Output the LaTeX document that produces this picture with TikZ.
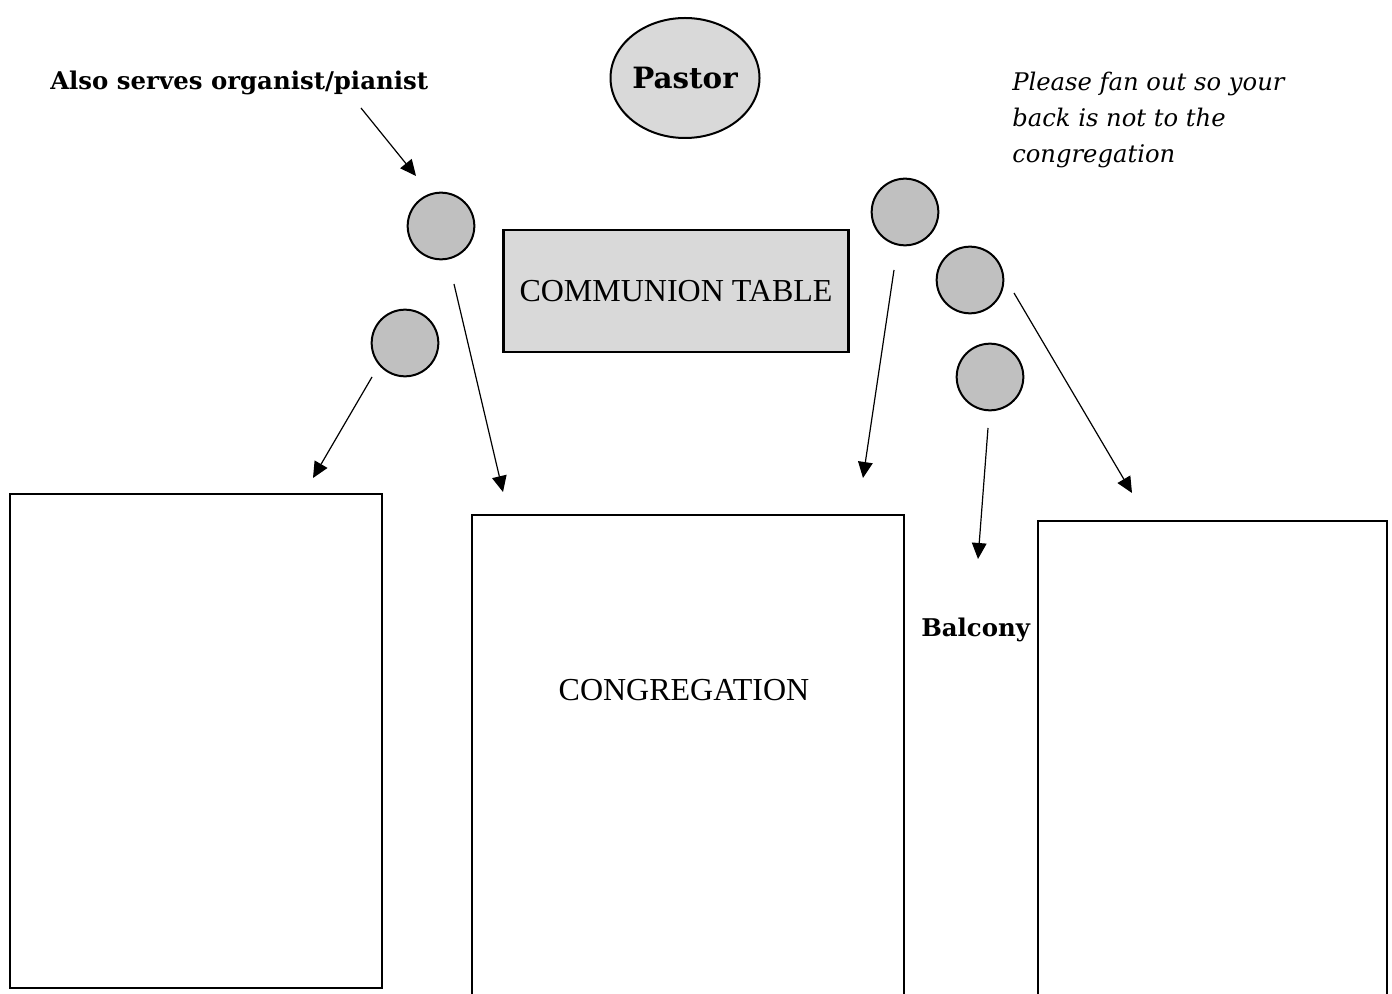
\documentclass[tikz,border=0pt]{standalone}
\usepackage{fontspec}
\setmainfont{Liberation Serif}
\newfontfamily\lbfont{DejaVu Serif}
\usetikzlibrary{arrows.meta,shapes.geometric}
\definecolor{tablegray}{HTML}{D9D9D9}
\definecolor{seatgray}{HTML}{C0C0C0}
\tikzset{
  seat/.style={circle,draw=black,line width=1.5pt,fill=seatgray,minimum size=50pt,inner sep=0pt},
  area/.style={draw=black,line width=2pt},
  arr/.style={line width=0.9pt,-{Triangle[length=12pt,width=11pt]}},
  boldlabel/.style={font=\lbfont\bfseries\fontsize{18.3}{22}\selectfont,inner sep=0pt},
  bigtext/.style={font=\fontsize{24}{28}\selectfont,inner sep=0pt},
}
\begin{document}
\begin{tikzpicture}[x=0.75pt,y=-0.75pt]
\useasboundingbox (0,0) rectangle (1392,994);
\clip (0,0) rectangle (1392,994);
% pastor
\node[ellipse,draw=black,line width=1.5pt,fill=tablegray,minimum width=102pt,minimum height=90pt,inner sep=0pt,
      font=\lbfont\bfseries\fontsize{22}{24}\selectfont] (pastor) at (685,78) {Pastor};
% communion table
\node[draw=black,line width=2pt,fill=tablegray,minimum width=259pt,minimum height=91.5pt,inner sep=0pt,
      font=\fontsize{24}{28}\selectfont] (table) at (676,291) {COMMUNION TABLE};
% seats
\node[seat] (s1) at (441,226) {};
\node[seat] (s2) at (405,343) {};
\node[seat] (s3) at (905,212) {};
\node[seat] (s4) at (970,280) {};
\node[seat] (s5) at (990,377) {};
% seating areas
\draw[area] (10,988) -- (10,494) -- (382,494) -- (382,988) -- cycle;
\draw[area] (472,1010) -- (472,515) -- (904,515) -- (904,1010);
\draw[area] (1038,1010) -- (1038,521) -- (1387,521) -- (1387,1010);
\node[bigtext] (cong) at (684,690) {CONGREGATION};
% labels
\node[boldlabel,anchor=base west] (organist) at (50,90) {Also serves organist/pianist};
\node[boldlabel,anchor=base west] (balcony) at (921,636) {Balcony};
\node[anchor=base west,inner sep=0pt,align=left,font=\lbfont\itshape\fontsize{18.2}{27}\selectfont] (note) at (1012,163)
  {Please fan out so your\\back is not to the\\congregation};
% arrow endpoints
\coordinate (a0) at (361,108); \coordinate (a0e) at (416,176);
\coordinate (a1) at (372,377); \coordinate (a1e) at (313,478);
\coordinate (a2) at (454,284); \coordinate (a2e) at (503,492);
\coordinate (a3) at (894,270); \coordinate (a3e) at (863,478);
\coordinate (a4) at (1014,293); \coordinate (a4e) at (1132,493);
\coordinate (a5) at (988,428); \coordinate (a5e) at (978,559);
\draw[arr] (a0) -- (a0e);
\draw[arr] (a1) -- (a1e);
\draw[arr] (a2) -- (a2e);
\draw[arr] (a3) -- (a3e);
\draw[arr] (a4) -- (a4e);
\draw[arr] (a5) -- (a5e);
\end{tikzpicture}
\end{document}
